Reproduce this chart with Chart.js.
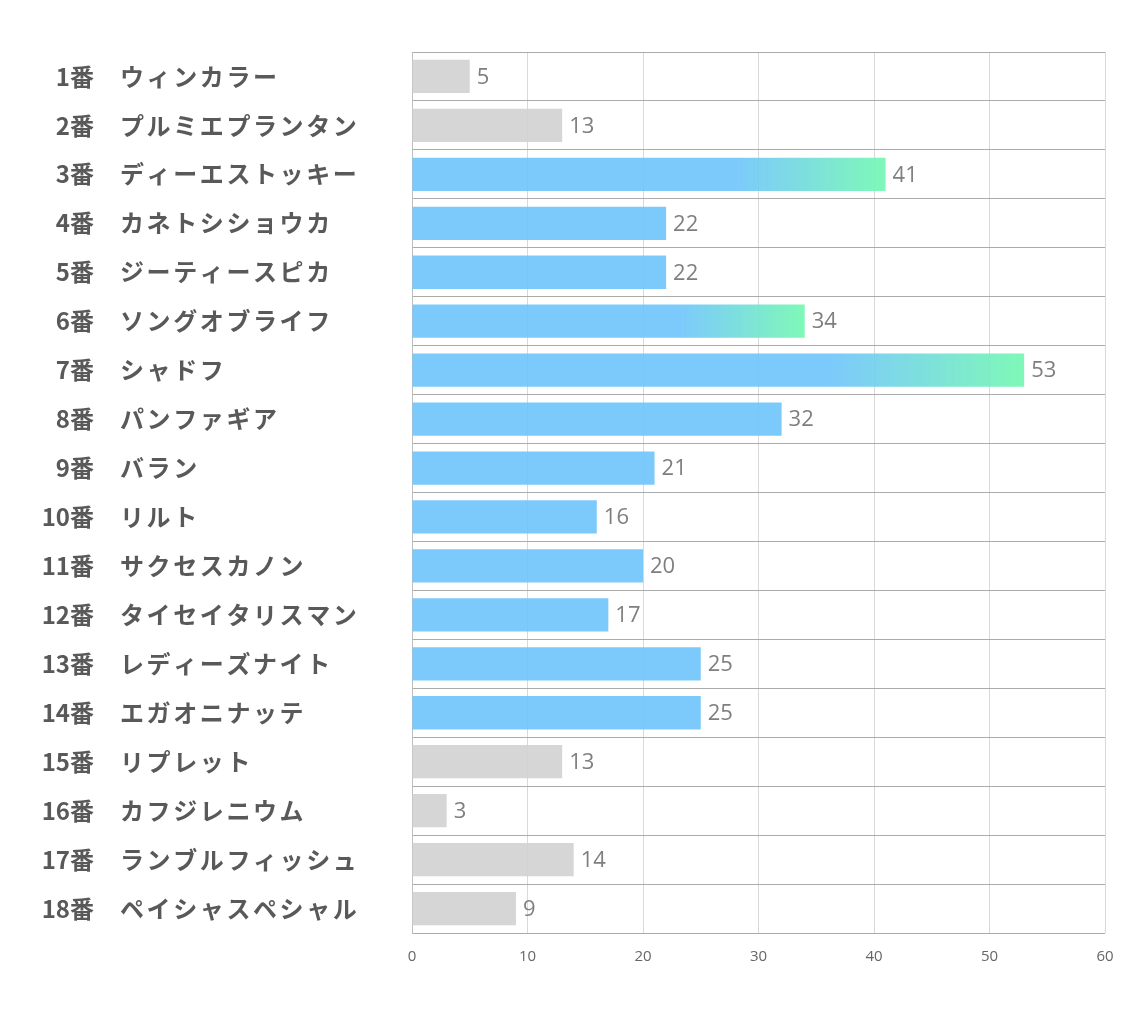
<!DOCTYPE html>
<html>
<head>
<meta charset="utf-8">
<script src="https://cdn.jsdelivr.net/npm/chart.js@4"></script>
<style>
  html, body { margin: 0; padding: 0; background: #fff; }
  #wrap { width: 1134px; height: 1020px; position: relative; }
</style>
</head>
<body>
<div id="wrap"><canvas id="chart"></canvas></div>
<script>
// --- DATA ---
const horseNumbers = ["1番","2番","3番","4番","5番","6番","7番","8番","9番","10番","11番","12番","13番","14番","15番","16番","17番","18番"];
const horseNames = ["ウィンカラー","プルミエプランタン","ディーエストッキー","カネトシショウカ","ジーティースピカ","ソングオブライフ","シャドフ","パンファギア","バラン","リルト","サクセスカノン","タイセイタリスマン","レディーズナイト","エガオニナッテ","リプレット","カフジレニウム","ランブルフィッシュ","ペイシャスペシャル"];
const scores = [5, 13, 41, 22, 22, 34, 53, 32, 21, 16, 20, 17, 25, 25, 13, 3, 14, 9];
// which bars are grey / blue / blue fading to green
const barKind = ["grey","grey","top","blue","blue","top","top","blue","blue","blue","blue","blue","blue","blue","grey","grey","grey","grey"];
const xTicks = [0, 10, 20, 30, 40, 50, 60];

const GREY = "rgba(210,210,210,0.9)";
const BLUE = "rgba(110,196,252,0.9)";
const GREEN = "rgba(120,248,180,0.95)";

function barColor(ctx) {
  const kind = barKind[ctx.dataIndex];
  if (kind === "grey") return GREY;
  if (kind === "blue") return BLUE;
  const chart = ctx.chart;
  if (!chart.chartArea) return BLUE;
  const x = chart.scales.x;
  const x0 = x.getPixelForValue(0);
  const x1 = x.getPixelForValue(scores[ctx.dataIndex]);
  const g = chart.ctx.createLinearGradient(x0, 0, x1, 0);
  g.addColorStop(0, BLUE);
  g.addColorStop(0.68, BLUE);
  g.addColorStop(1, GREEN);
  return g;
}

// left labels: number right-aligned, name left-aligned
const sideLabels = {
  id: "sideLabels",
  afterDraw(chart) {
    const c = chart.ctx;
    const y = chart.scales.y;
    c.save();
    c.fillStyle = "#595959";
    c.textBaseline = "middle";
    horseNumbers.forEach((n, i) => {
      const py = y.getPixelForValue(i);
      c.font = "bold 24px 'Noto Sans CJK JP', sans-serif";
      c.letterSpacing = "0px";
      c.textAlign = "right";
      c.fillText(n, 94, py);
      c.letterSpacing = "2.6px";
      c.textAlign = "left";
      c.fillText(horseNames[i], 120, py);
    });
    c.restore();
  }
};

// value labels at bar ends
const valueLabels = {
  id: "valueLabels",
  afterDatasetsDraw(chart) {
    const c = chart.ctx;
    const meta = chart.getDatasetMeta(0);
    c.save();
    c.fillStyle = "#7f7f7f";
    c.font = "22px 'Open Sans', sans-serif";
    c.textAlign = "left";
    c.textBaseline = "middle";
    meta.data.forEach((bar, i) => {
      c.fillText(String(scores[i]), bar.x + 7, bar.y + 1);
    });
    c.restore();
  }
};

new Chart(document.getElementById("chart"), {
  type: "bar",
  data: {
    labels: horseNames,
    datasets: [{
      data: scores,
      backgroundColor: barColor,
      borderWidth: 0,
      categoryPercentage: 1,
      barPercentage: 0.68
    }]
  },
  options: {
    indexAxis: "y",
    responsive: true,
    maintainAspectRatio: false,
    animation: false,
    layout: { padding: { left: 412, right: 29, top: 52, bottom: 39 } },
    plugins: { legend: { display: false }, tooltip: { enabled: false } },
    scales: {
      x: {
        min: 0, max: 60,
        afterBuildTicks(axis) { axis.ticks = xTicks.map(v => ({ value: v })); },
        grid: { color: "#d9d9d9", drawTicks: false },
        border: { display: false },
        ticks: { color: "#666", font: { size: 15, family: "'Open Sans', sans-serif" }, padding: 15 }
      },
      y: {
        grid: { offset: true, color: "#ababab", drawTicks: false },
        border: { display: true, color: "#bfbfbf" },
        ticks: { display: false }
      }
    }
  },
  plugins: [sideLabels, valueLabels]
});
</script>
</body>
</html>
